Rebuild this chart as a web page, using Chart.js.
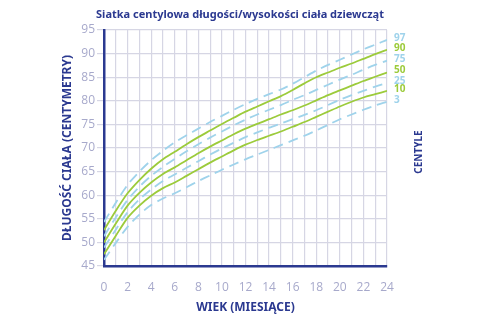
<!DOCTYPE html>
<html>
<head>
<meta charset="utf-8">
<script src="https://cdn.jsdelivr.net/npm/chart.js@4"></script>
<style>
  html, body { margin: 0; padding: 0; background: #fff; }
  #wrap { width: 480px; height: 320px; }
</style>
</head>
<body>
<div id="wrap"><canvas id="chart" width="480" height="320"></canvas></div>
<script>
// wiek w miesiącach
const months = [0,1,2,3,4,5,6,7,8,9,10,11,12,13,14,15,16,17,18,19,20,21,22,23,24];

// centyle długości ciała (cm)
const p97 = [54.3,58.4,62.2,65.0,67.4,69.4,71.2,72.7,74.1,75.5,76.8,78.1,79.3,80.4,81.4,82.4,83.6,85.0,86.4,87.6,88.7,89.8,90.9,91.9,92.9];
const p90 = [52.6,56.7,60.4,63.2,65.6,67.6,69.2,70.8,72.3,73.7,75.1,76.4,77.7,78.8,79.9,81.0,82.3,83.7,85.0,86.0,87.0,87.9,88.9,89.9,90.8];
const p75 = [51.3,55.3,59.0,61.8,64.1,66.0,67.7,69.3,70.8,72.2,73.5,74.8,76.0,77.1,78.1,79.1,80.2,81.2,82.3,83.4,84.5,85.5,86.6,87.6,88.5];
const p50 = [50.0,54.0,57.8,60.5,62.7,64.5,65.9,67.4,68.9,70.3,71.6,72.9,74.1,75.1,76.1,77.1,78.0,79.0,80.1,81.2,82.2,83.2,84.2,85.1,86.0];
const p25 = [48.9,52.7,56.4,59.1,61.2,63.0,64.4,65.8,67.2,68.6,69.9,71.1,72.3,73.3,74.3,75.2,76.1,77.0,78.0,79.1,80.2,81.2,82.1,83.0,83.8];
const p10 = [47.5,51.4,55.2,57.8,59.9,61.5,62.7,64.1,65.5,66.9,68.2,69.5,70.7,71.7,72.6,73.5,74.5,75.5,76.6,77.7,78.8,79.8,80.7,81.4,82.1];
const p3  = [46.3,49.9,53.3,55.9,57.9,59.3,60.4,61.7,63.0,64.2,65.4,66.5,67.6,68.6,69.6,70.6,71.6,72.6,73.7,74.9,76.1,77.1,78.1,79.0,79.8];

const centileLabels = ['97','90','75','50','25','10','3'];
const series = [p97, p90, p75, p50, p25, p10, p3];

const navy = '#2b3990';
const green = '#9ccb3b';
const blue = '#9fd3eb';
const tickColor = '#a7a9cb';
const gridColor = '#d6d6e4';

const datasets = series.map((vals, i) => {
  const solid = i % 2 === 1;
  return {
    label: centileLabels[i],
    data: months.map((m, j) => ({ x: m, y: vals[j] })),
    borderColor: solid ? green : blue,
    borderWidth: 1.8,
    borderDash: solid ? [] : [10, 6],
    pointRadius: 0,
    tension: 0.3,
    fill: false
  };
});

// tytuł, etykiety centyli i napis "CENTYLE"
const extras = {
  id: 'extras',
  afterDatasetsDraw(chart) {
    const ctx = chart.ctx;
    const y = chart.scales.y;
    ctx.save();
    ctx.fillStyle = navy;
    ctx.font = 'bold 11px "Noto Sans"';
    ctx.textAlign = 'center';
    ctx.textBaseline = 'middle';
    ctx.fillText('Siatka centylowa długości/wysokości ciała dziewcząt', 240, 15);

    ctx.font = 'bold 10px "Noto Sans"';
    ctx.textAlign = 'left';
    series.forEach((vals, i) => {
      ctx.fillStyle = i % 2 === 1 ? green : blue;
      ctx.fillText(centileLabels[i], 394, y.getPixelForValue(vals[vals.length - 1]) - 2);
    });
    ctx.translate(419, 152);
    ctx.rotate(-Math.PI / 2);
    ctx.textAlign = 'center';
    ctx.fillStyle = navy;
    ctx.fillText('CENTYLE', 0, 0);
    ctx.restore();
  }
};

new Chart(document.getElementById('chart'), {
  type: 'line',
  data: { datasets },
  options: {
    responsive: false,
    animation: false,
    layout: { padding: { left: 60, right: 93, top: 30, bottom: 5 } },
    plugins: {
      legend: { display: false },
      tooltip: { enabled: false },
      title: { display: false }
    },
    scales: {
      x: {
        type: 'linear',
        min: 0,
        max: 24,
        afterFit(scale) { scale.height = 49; },
        ticks: {
          stepSize: 1,
          autoSkip: false,
          maxRotation: 0,
          padding: 14,
          color: tickColor,
          font: { family: 'Open Sans', size: 12 },
          callback: v => (v % 2 === 0 ? v : '')
        },
        grid: { color: gridColor, lineWidth: 1.2, drawTicks: false },
        border: { color: navy, width: 2.5 },
        title: {
          display: true,
          text: 'WIEK (MIESIĄCE)',
          color: navy,
          font: { family: 'Noto Sans', size: 12, weight: 'bold' },
          padding: { top: 4, bottom: 0 }
        }
      },
      y: {
        min: 45,
        max: 95,
        afterFit(scale) { scale.width = 44; },
        ticks: {
          stepSize: 5,
          padding: 2,
          color: tickColor,
          font: { family: 'Open Sans', size: 12 }
        },
        grid: { color: gridColor, lineWidth: 1.2, tickLength: 7 },
        border: { color: navy, width: 2.5 },
        title: {
          display: true,
          text: 'DŁUGOŚĆ CIAŁA (CENTYMETRY)',
          color: navy,
          font: { family: 'Noto Sans', size: 12, weight: 'bold' },
          padding: { top: 0, bottom: 4 }
        }
      }
    }
  },
  plugins: [extras]
});
</script>
</body>
</html>
